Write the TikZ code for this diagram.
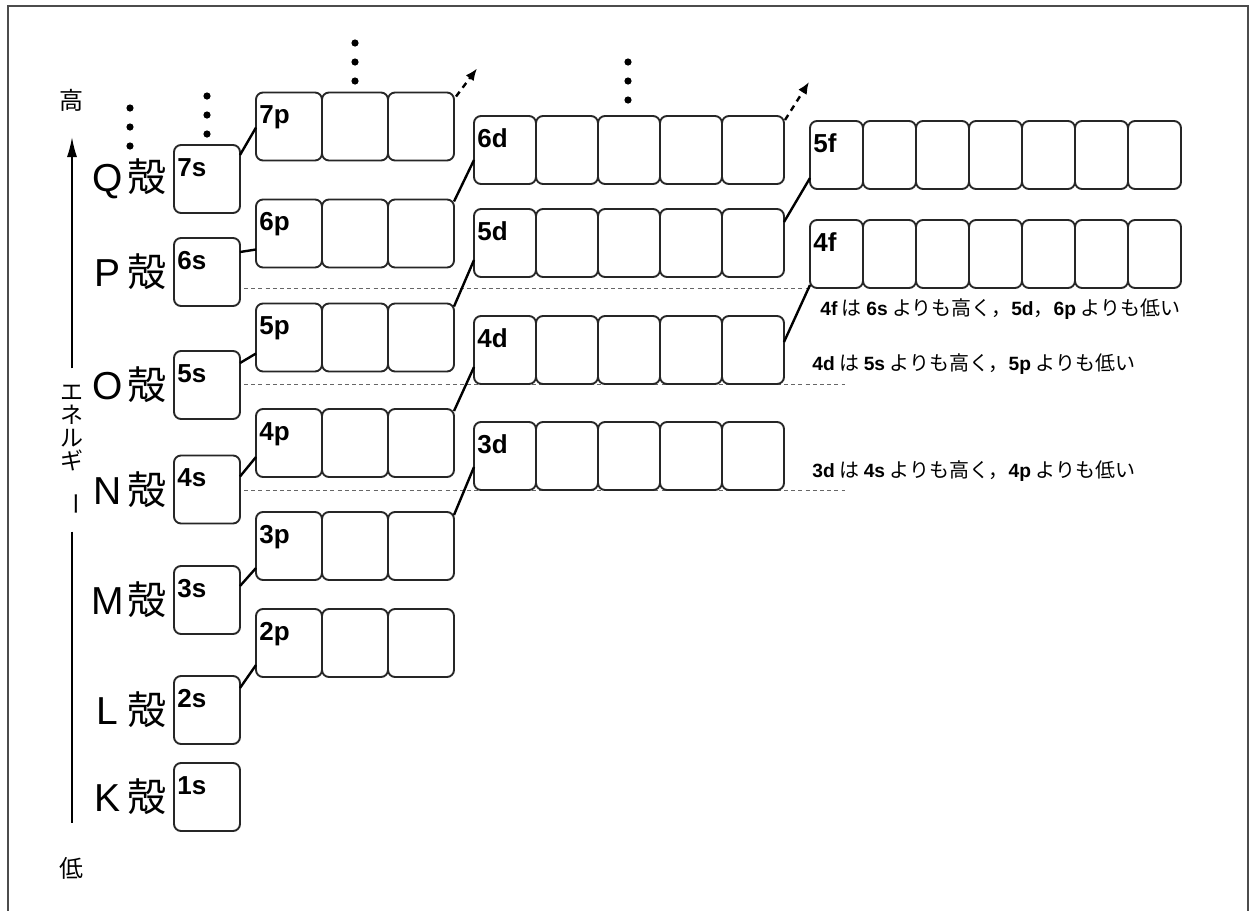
\documentclass[tikz,border=0pt]{standalone}
\usepackage{fontspec}
\setmainfont{Liberation Sans}
\newfontfamily\jp{Noto Sans CJK JP}
\usetikzlibrary{arrows.meta,positioning,calc,backgrounds}

\newcommand\enb[1]{{\rmfamily\bfseries\fontsize{9.6}{10}\selectfont #1}}

\begin{document}
\begin{tikzpicture}[
  x=0.5pt, y=-0.5pt,
  orb/.style={draw=black!85, line width=0.95pt, rounded corners=3.5pt, minimum height=34pt, inner sep=0pt, outer sep=0pt},
  sorb/.style={orb, minimum width=33pt},
  dorb/.style={orb, minimum width=31pt},
  forb/.style={orb, minimum width=26.5pt},
  tagtext/.style={anchor=base west, inner sep=0pt, xshift=1.5pt, yshift=-15.5pt, font=\bfseries\fontsize{13}{13}\selectfont},
  tag/.style={label={[tagtext]north west:#1}},
  shell/.style={inner sep=0pt, font=\fontsize{19.5}{19.5}\selectfont},
  link/.style={line width=1.2pt},
  more/.style={-{Latex[length=6pt,width=5pt]}, line width=1.2pt, dash pattern=on 3pt off 2.5pt},
  sep/.style={draw=black!60, line width=0.5pt, dash pattern=on 2pt off 1.6pt},
  note/.style={anchor=base west, inner sep=0pt, font=\jp\fontsize{10}{12}\selectfont},
  axis/.style={line width=0.8pt},
  frame/.style={draw=black!70, line width=1pt}
]
\useasboundingbox (0,0) rectangle (1249,911);
\draw[frame] (8,915) -- (8,6) -- (1248,6) -- (1248,915);

% s row
\foreach \n/\y in {1/797, 2/710, 3/600, 4/489.5, 5/385, 6/272, 7/179}
  \node[sorb, tag={\n s}] (s\n) at (207,\y) {};

% p rows
\foreach \n/\y in {2/643, 3/546, 4/443, 5/337.5, 6/233.5, 7/126.5} {
  \node[sorb, tag={\n p}] (p\n-1) at (289,\y) {};
  \node[sorb, right=0pt of p\n-1] (p\n-2) {};
  \node[sorb, right=0pt of p\n-2] (p\n-3) {};
}

% d rows
\foreach \n/\y in {3/456, 4/350, 5/243, 6/150} {
  \node[dorb, tag={\n d}] (d\n-1) at (505,\y) {};
  \foreach \k [count=\j from 1] in {2,...,5}
    \node[dorb, right=0pt of d\n-\j] (d\n-\k) {};
}

% f rows
\foreach \n/\y in {4/254, 5/155} {
  \node[forb, tag={\n f}] (f\n-1) at (836.5,\y) {};
  \foreach \k [count=\j from 1] in {2,...,7}
    \node[forb, right=0pt of f\n-\j] (f\n-\k) {};
}

% shells
\foreach \n/\l in {1/K, 2/L, 3/M, 4/N, 5/O, 6/P, 7/Q}
  \node[shell, left=3.5pt of s\n] (sh\n) {\makebox[14pt][c]{\l}\hspace{3pt}{\jp 殻}};

% links between subshells
\foreach \a/\b/\u/\v in {s2/p2-1/12/56, s3/p3-1/20/56, s4/p4-1/21/48, s5/p5-1/12/50,
    s6/p6-1/14/50, s7/p7-1/10/35, p3-3/d3-1/3/45, p4-3/d4-1/2/51, p5-3/d5-1/3/51,
    p6-3/d6-1/2/44, d4-5/f4-1/26/65, d5-5/f5-1/13/57}
  \draw[link] ($(\a.north east)+(0,\u)$) -- ($(\b.north west)+(0,\v)$);

\draw[more] ($(p7-3.north east)+(2,4)$) -- ++(21,-28);
\draw[more] ($(d6-5.north east)+(1,4)$) -- ++(24,-38);

% dots
\foreach \x/\y in {130/108, 207/96, 355/43, 628/62}
  \foreach \k in {0,1,2}
    \fill ({\x},{\y+19*\k}) circle (1.8pt);

% level guides
\coordinate (sepend) at (845,0);
\begin{scope}[on background layer]
\draw[sep] (f4-1.south -| s6.east) ++(4,0) -- (f4-1.south west);
\draw[sep] (d4-1.south -| s5.east) ++(4,0) -- (d4-1.south -| sepend);
\draw[sep] (d3-1.south -| s4.east) ++(4,0) -- (d3-1.south -| sepend);
\end{scope}

% notes
\node[note] (n4f) at (820,315) {\enb{4f} は \enb{6s} よりも高く，\enb{5d}，\enb{6p} よりも低い};
\node[note] (n4d) at (812,370) {\enb{4d} は \enb{5s} よりも高く，\enb{5p} よりも低い};
\node[note] (n3d) at (812,477) {\enb{3d} は \enb{4s} よりも高く，\enb{4p} よりも低い};

% energy axis
\node[font=\jp\fontsize{12}{12}\selectfont] (hi) at (72,100) {高};
\node[font=\jp\fontsize{12}{12}\selectfont] (lo) at (72,868) {低};
\node[font=\jp\fontsize{11.5}{11.5}\selectfont, align=center, inner xsep=0pt, inner ysep=8pt] (ene) at (72,450)
  {エ\\ネ\\ル\\ギ\\\rotatebox{-90}{ー}};
\coordinate (axbot) at (72,823);
\coordinate (axtop) at (72,137);
\draw[axis] (ene) -- (axbot);
\draw[axis, -{Latex[length=10pt,width=5pt]}] (ene) -- (axtop);
\end{tikzpicture}
\end{document}
